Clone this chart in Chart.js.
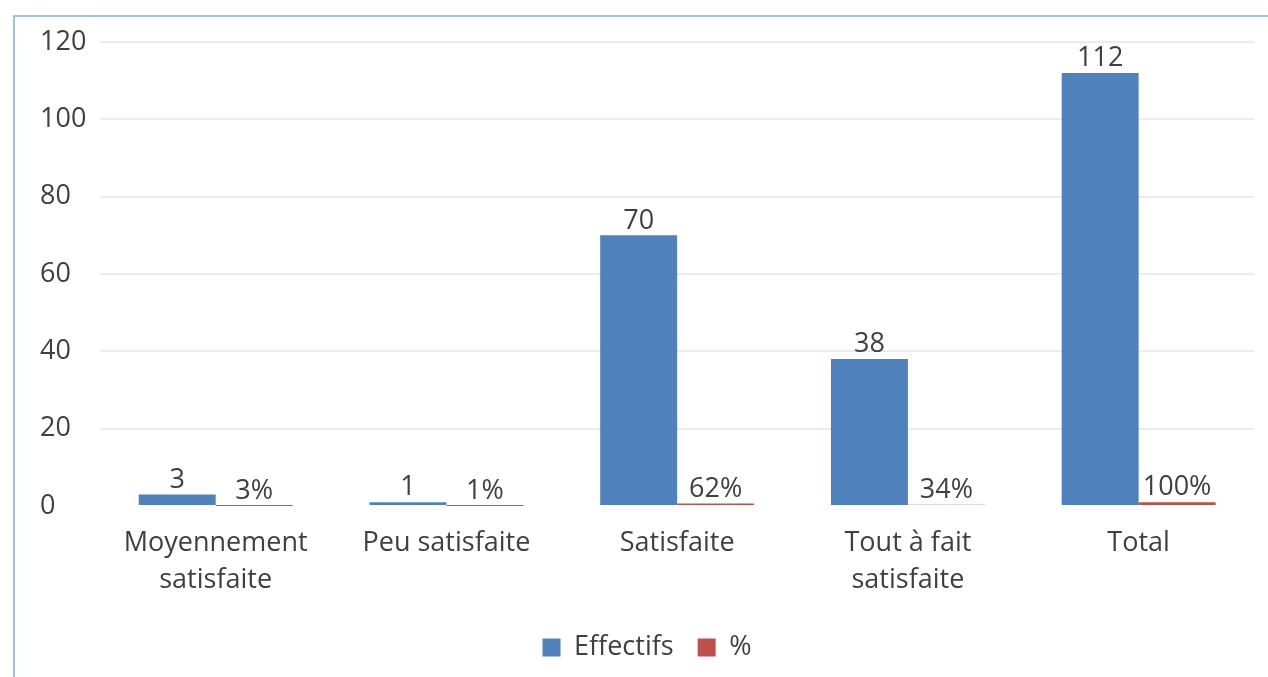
<!DOCTYPE html>
<html lang="fr">
<head>
    <meta charset="UTF-8">
    <title>Satisfaction</title>
    <script src="https://cdn.jsdelivr.net/npm/chart.js"></script>
    <style>
        html, body {
            margin: 0;
            background: #ffffff;
            overflow: hidden;
        }

        .frame {
            position: absolute;
            left: 13px;
            top: 15px;
            width: 1300px;
            height: 700px;
            border-top: 2px solid #9dc3e6;
            border-left: 2px solid #9dc3e6;
        }

        .chart-box {
            position: absolute;
            left: 0;
            top: 0;
            width: 1268px;
            height: 677px;
        }
    </style>
</head>
<body>
    <div class="frame"></div>
    <div class="chart-box">
        <canvas id="satisfactionChart"></canvas>
    </div>

    <script>
        const categories = [
            ['Moyennement', 'satisfaite'],
            'Peu satisfaite',
            'Satisfaite',
            ['Tout à fait', 'satisfaite'],
            'Total'
        ];
        const effectifs = [3, 1, 70, 38, 112];
        const pourcentages = [0.03, 0.01, 0.62, 0.34, 1];
        const yTicks = [0, 20, 40, 60, 80, 100, 120];

        const textColor = '#404040';
        const fontFamily = "'Open Sans', sans-serif";

        // draws the value above each bar, like the Excel data labels
        const valueLabels = {
            id: 'valueLabels',
            afterDatasetsDraw(chart) {
                const ctx = chart.ctx;
                ctx.save();
                ctx.fillStyle = textColor;
                ctx.font = `27px ${fontFamily}`;
                ctx.textAlign = 'center';
                ctx.textBaseline = 'bottom';
                chart.data.datasets.forEach((ds, i) => {
                    const meta = chart.getDatasetMeta(i);
                    meta.data.forEach((bar, j) => {
                        const v = ds.data[j];
                        const txt = i === 1 ? Math.round(v * 100) + '%' : String(v);
                        ctx.fillText(txt, bar.x, bar.y - 1);
                    });
                });
                ctx.restore();
            }
        };

        const chart = new Chart(document.getElementById('satisfactionChart'), {
            type: 'bar',
            data: {
                labels: categories,
                datasets: [{
                    label: 'Effectifs',
                    data: effectifs,
                    backgroundColor: '#4f81bd',
                    categoryPercentage: 0.667,
                    barPercentage: 1
                }, {
                    label: '%',
                    data: pourcentages,
                    backgroundColor: '#c0504d',
                    categoryPercentage: 0.667,
                    barPercentage: 1
                }]
            },
            options: {
                responsive: true,
                maintainAspectRatio: false,
                animation: false,
                layout: {
                    padding: { top: 42, left: 40, right: 14, bottom: 6 }
                },
                plugins: {
                    tooltip: { enabled: false },
                    legend: {
                        position: 'bottom',
                        labels: {
                            color: textColor,
                            font: { family: fontFamily, size: 27 },
                            boxWidth: 18,
                            boxHeight: 18,
                            padding: 24
                        }
                    }
                },
                scales: {
                    x: {
                        grid: { display: false },
                        border: { display: false },
                        ticks: {
                            color: textColor,
                            padding: 11,
                            maxRotation: 0,
                            autoSkip: false,
                            font: { family: fontFamily, size: 27, lineHeight: 1.37 }
                        }
                    },
                    y: {
                        min: 0,
                        max: 120,
                        afterBuildTicks: (axis) => {
                            axis.ticks = yTicks.map(v => ({ value: v }));
                        },
                        border: { display: false },
                        grid: {
                            color: (c) => c.tick && c.tick.value === 0 ? 'rgba(0,0,0,0)' : '#ececec',
                            lineWidth: 2,
                            drawTicks: false
                        },
                        ticks: {
                            color: textColor,
                            crossAlign: 'far',
                            padding: 7,
                            font: { family: fontFamily, size: 27 }
                        }
                    }
                }
            },
            plugins: [valueLabels]
        });
    </script>
</body>
</html>
